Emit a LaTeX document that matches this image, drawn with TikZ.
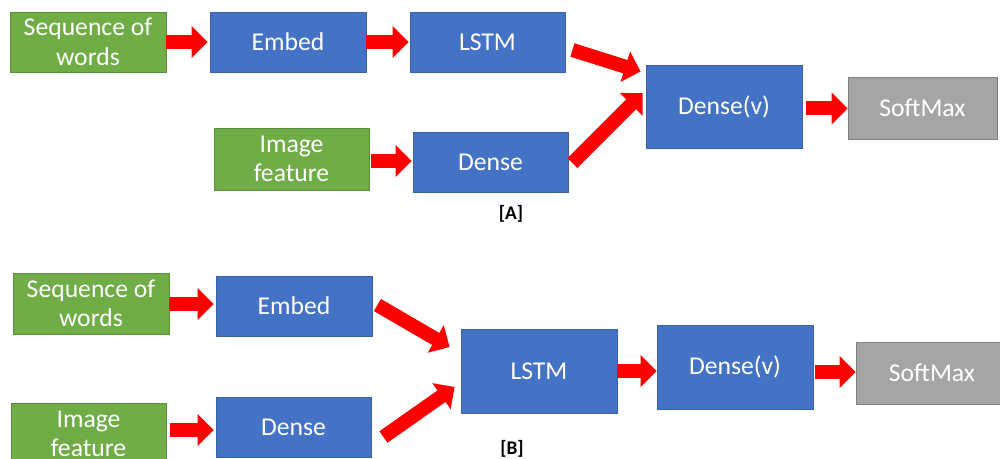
\documentclass[tikz,border=0pt]{standalone}
\usepackage{fontspec}
\setmainfont{Carlito}
\usetikzlibrary{arrows.meta,calc}

\definecolor{boxgreen}{HTML}{70AD47}
\definecolor{boxgreenedge}{HTML}{5B8E3A}
\definecolor{boxblue}{HTML}{4472C4}
\definecolor{boxblueedge}{HTML}{3A62A8}
\definecolor{boxgray}{HTML}{A5A5A5}
\definecolor{boxgrayedge}{HTML}{808080}
\definecolor{flowred}{HTML}{FF0000}

\begin{document}
\begin{tikzpicture}[x=0.02cm, y=-0.02cm,
  blk/.style={rectangle, inner sep=0pt, align=center, text=white,
    line width=0.5pt, font=\fontsize{14.6}{16.8}\selectfont},
  inbox/.style={blk, fill=boxgreen, draw=boxgreenedge},
  layer/.style={blk, fill=boxblue, draw=boxblueedge},
  outbox/.style={blk, fill=boxgray, draw=boxgrayedge},
  flow/.style={draw=flowred, line width=0.28cm,
    -{Triangle[width=0.62cm, length=0.32cm]}},
  tag/.style={font=\fontsize{11}{13}\selectfont\bfseries, text=black}]

\useasboundingbox (0,0) rectangle (1000,459);
\clip (0,0) rectangle (1000,459);

% ---------- model A ----------
\node[inbox, minimum width=3.12cm, minimum height=1.2cm] (seqA) at (88,42) {Sequence of\\words};
\node[layer, minimum width=3.12cm, minimum height=1.2cm] (embA) at (288,42) {Embed};
\node[layer, minimum width=3.10cm, minimum height=1.2cm] (lstmA) at (487.5,42) {LSTM};
\node[inbox, minimum width=3.10cm, minimum height=1.24cm] (imgA) at (291.5,159) {Image\\feature};
\node[layer, minimum width=3.10cm, minimum height=1.2cm] (denseA) at (490.5,162) {Dense};
\node[layer, minimum width=3.12cm, minimum height=1.66cm] (densevA) at (724,106.5) {Dense(v)};
\node[outbox, minimum width=2.98cm, minimum height=1.24cm] (softA) at (922.5,108) {SoftMax};
\node[tag] (labA) at (511,214) {[A]};

\draw[flow] (seqA.east) -- ($(embA.west)+(-2,0)$);
\draw[flow] (embA.east) -- ($(lstmA.west)+(-1,0)$);
\draw[flow] ($(imgA.east)+(2,2)$) -- ($(denseA.west)+(-1,-1)$);
\draw[flow] ($(lstmA.east)+(7,8)$) -- ($(densevA.west)+(-5,-35)$);
\draw[flow] ($(denseA.east)+(4,1)$) -- ($(densevA.west)+(-3,-13.5)$);
\draw[flow] ($(densevA.east)+(4,2)$) -- ($(softA.west)+(0,0.5)$);

% ---------- model B ----------
\node[inbox, minimum width=3.12cm, minimum height=1.22cm] (seqB) at (91,303.5) {Sequence of\\words};
\node[layer, minimum width=3.12cm, minimum height=1.2cm] (embB) at (294,306) {Embed};
\node[inbox, minimum width=3.10cm, minimum height=1.24cm] (imgB) at (88.5,434) {Image\\feature};
\node[layer, minimum width=3.10cm, minimum height=1.2cm] (denseB) at (293.5,427) {Dense};
\node[layer, minimum width=3.12cm, minimum height=1.68cm] (lstmB) at (539,371) {LSTM};
\node[layer, minimum width=3.12cm, minimum height=1.68cm] (densevB) at (735,367) {Dense(v)};
\node[outbox, minimum width=3.04cm, minimum height=1.24cm] (softB) at (932,373) {SoftMax};
\node[tag] (labB) at (512,449) {[B]};

\draw[flow] ($(seqB.east)+(0,0.5)$) -- ($(embB.west)+(-2,-2)$);
\draw[flow] ($(imgB.east)+(4,-4)$) -- ($(denseB.west)+(-2,3)$);
\draw[flow] ($(embB.east)+(5,-1)$) -- ($(lstmB.west)+(-11,-24)$);
\draw[flow] ($(denseB.east)+(12,10)$) -- ($(lstmB.west)+(-6,16)$);
\draw[flow] (lstmB.east) -- ($(densevB.west)+(0,4)$);
\draw[flow] ($(densevB.east)+(2,5)$) -- ($(softB.west)+(0,-1)$);

\end{tikzpicture}
\end{document}
